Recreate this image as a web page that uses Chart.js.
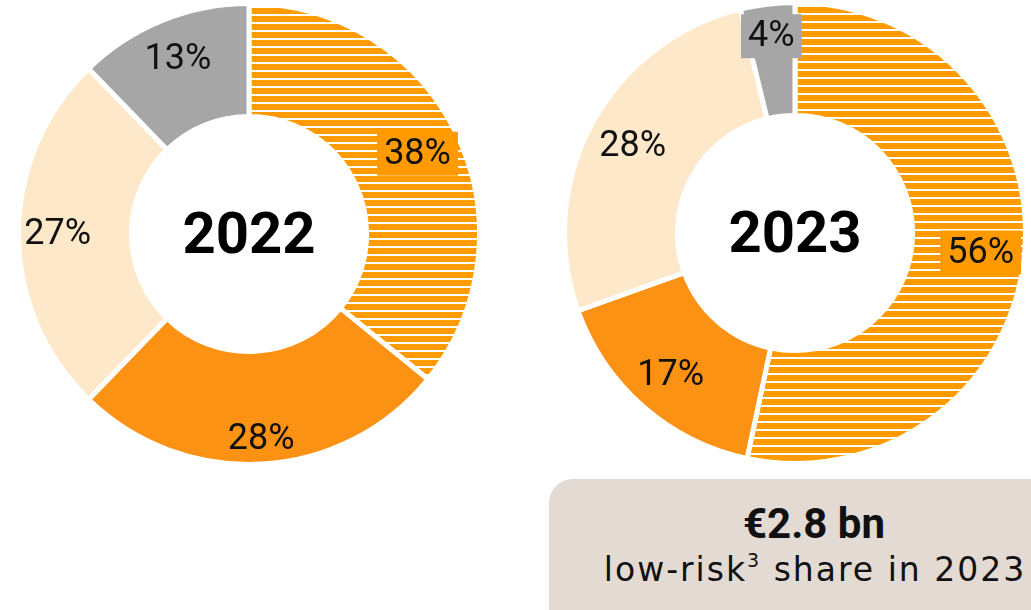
<!DOCTYPE html>
<html>
<head>
<meta charset="utf-8">
<script src="https://cdn.jsdelivr.net/npm/chart.js@4.4.0/dist/chart.umd.min.js"></script>
<style>
  body { margin: 0; width: 1031px; height: 610px; overflow: hidden; background: #fff; position: relative; font-family: Roboto, sans-serif; }
  .wrap { position: absolute; width: 466px; height: 466px; }
  .box { position: absolute; left: 549px; top: 479px; width: 520px; height: 170px; background: #e3dad4; border-radius: 24px; }
  .box .big { position: absolute; left: 0; width: 530px; top: 21px; line-height: 48px; text-align: center; font-weight: bold; font-size: 42px; color: #111; font-family: Roboto, sans-serif; }
  .box .small { position: absolute; left: 0; width: 532px; top: 71px; line-height: 40px; text-align: center; font-size: 33px; color: #111; font-family: "DejaVu Sans", sans-serif; letter-spacing: 2px; }
  .box sup { font-size: 19px; vertical-align: 14px; line-height: 0; }
</style>
</head>
<body>
<div class="wrap" style="left:16px;top:1px"><canvas id="c2022"></canvas></div>
<div class="wrap" style="left:562px;top:0px"><canvas id="c2023"></canvas></div>
<div class="box">
  <div class="big">€2.8 bn</div>
  <div class="small">low-risk<sup>3</sup> share in 2023</div>
</div>
<script>
// segments clockwise from the top
const categories = ['Low-risk', 'Medium', 'Other', 'Rest'];
const values2022 = [38, 28, 27, 13];
const values2023 = [56, 17, 28, 4];
const years = ['2022', '2023'];

const stripeOrange = '#ff9b00';
const solidOrange = '#fb9214';
const beige = '#fde8c9';
const grey = '#a6a6a6';

// horizontal white lines over orange
function stripes() {
    const c = document.createElement('canvas');
    c.width = 8; c.height = 8;
    const g = c.getContext('2d');
    g.fillStyle = stripeOrange;
    g.fillRect(0, 0, 8, 8);
    g.fillStyle = '#fff';
    g.fillRect(0, 5, 8, 2);
    return g.createPattern(c, 'repeat');
}

const labelPlugin = {
    id: 'sliceLabels',
    afterDatasetsDraw(chart, args, opts) {
        const ctx = chart.ctx;
        const meta = chart.getDatasetMeta(0);
        const data = chart.data.datasets[0].data;
        ctx.save();
        ctx.font = '36px Roboto';
        ctx.textAlign = 'center';
        ctx.textBaseline = 'middle';
        meta.data.forEach((arc, i) => {
            const p = arc.getProps(['startAngle', 'endAngle', 'outerRadius', 'x', 'y'], true);
            const a = (p.startAngle + p.endAngle) / 2;
            const r = p.outerRadius * opts.radius[i];
            const x = p.x + Math.cos(a) * r;
            const y = p.y + Math.sin(a) * r;
            const txt = data[i] + '%';
            if (opts.boxed[i]) {
                const w = ctx.measureText(txt).width + 14;
                ctx.fillStyle = opts.boxColor[i];
                ctx.fillRect(x - w / 2, y - 22, w, 44);
            }
            ctx.fillStyle = '#111';
            ctx.fillText(txt, x, y + 1);
        });
        // year in the hole
        ctx.font = 'bold 58px Roboto, sans-serif';
        ctx.fillStyle = '#000';
        ctx.fillText(opts.year, meta.data[0].x, meta.data[0].y + 4);
        ctx.restore();
    }
};

function makeChart(id, values, year, radius, boxed) {
    return new Chart(document.getElementById(id), {
        type: 'doughnut',
        data: {
            labels: categories,
            datasets: [{
                data: values,
                backgroundColor: [stripes(), solidOrange, beige, grey],
                borderColor: '#fff',
                borderWidth: 5,
                hoverOffset: 0
            }]
        },
        options: {
            responsive: true,
            maintainAspectRatio: false,
            animation: false,
            cutout: '51%',
            layout: { padding: 0 },
            events: [],
            plugins: {
                legend: { display: false },
                tooltip: { enabled: false },
                sliceLabels: {
                    year: year,
                    radius: radius,
                    boxed: boxed,
                    boxColor: [stripeOrange, solidOrange, beige, grey]
                }
            }
        },
        plugins: [labelPlugin]
    });
}

makeChart('c2022', values2022, years[0], [0.81, 0.89, 0.83, 0.82], [true, false, false, false]);
makeChart('c2023', values2023, years[1], [0.81, 0.82, 0.80, 0.86], [true, false, false, true]);
</script>
</body>
</html>
